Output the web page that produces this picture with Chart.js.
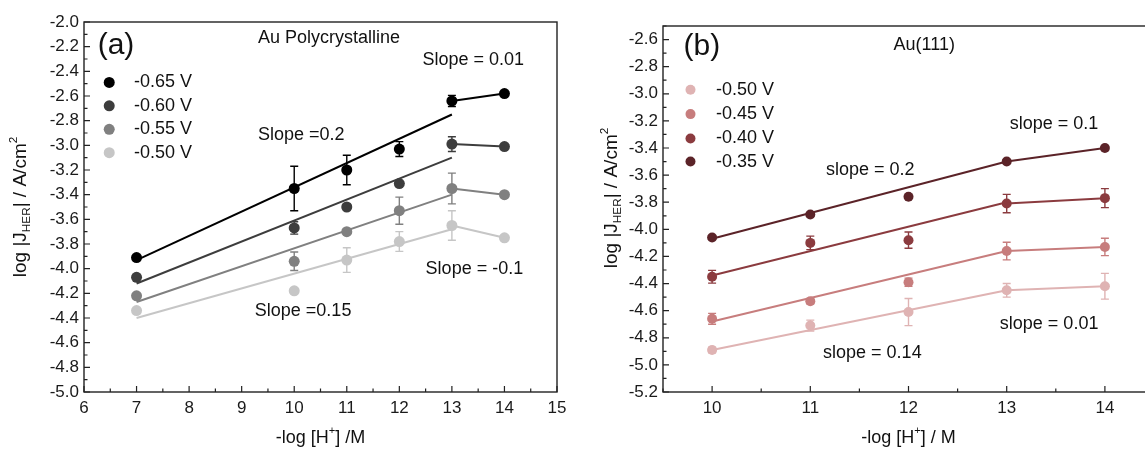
<!DOCTYPE html>
<html>
<head>
<meta charset="utf-8">
<script src="https://cdn.jsdelivr.net/npm/chart.js@4.4.1/dist/chart.umd.min.js"></script>
<style>
  body { margin: 0; width: 1145px; height: 450px; overflow: hidden; background: #fff; position: relative; }
  #wrapA { position: absolute; left: 0; top: 0; width: 575px; height: 450px; }
  #wrapB { position: absolute; left: 575px; top: 0; width: 600px; height: 450px; }
</style>
</head>
<body>
<div id="wrapA"><canvas id="chartA"></canvas></div>
<div id="wrapB"><canvas id="chartB"></canvas></div>
<script>
const FONT = '"Liberation Sans", Arial, Helvetica, sans-serif';

/* ======================
   DATA - PANEL (a)  Au Polycrystalline
====================== */
const phA = [7, 10, 11, 12, 13, 14];
const labelsA = ["-0.65 V", "-0.60 V", "-0.55 V", "-0.50 V"];
const a065 = [-3.91, -3.35, -3.20, -3.03, -2.64, -2.58];
const a060 = [-4.07, -3.67, -3.50, -3.31, -2.99, -3.01];
const a055 = [-4.22, -3.94, -3.70, -3.53, -3.35, -3.40];
const a050 = [-4.34, -4.18, -3.93, -3.78, -3.65, -3.75];
const a065Err = [0, 0.18, 0.12, 0.06, 0.045, 0];
const a060Err = [0, 0.05, 0, 0, 0.06, 0];
const a055Err = [0, 0.075, 0, 0.11, 0.125, 0];
const a050Err = [0, 0, 0.1, 0.08, 0.12, 0];
// linear fits, drawn from pH 7 to 13
const fitXA = [7, 13];
const fitA065 = [-3.93, -2.75];
const fitA060 = [-4.12, -3.10];
const fitA055 = [-4.27, -3.40];
const fitA050 = [-4.40, -3.68];
const xTicksA = [6, 7, 8, 9, 10, 11, 12, 13, 14, 15];
const yTicksA = [-5.0, -4.8, -4.6, -4.4, -4.2, -4.0, -3.8, -3.6, -3.4, -3.2, -3.0, -2.8, -2.6, -2.4, -2.2, -2.0];

/* ======================
   DATA - PANEL (b)  Au(111)
====================== */
const phB = [10, 11, 12, 13, 14];
const labelsB = ["-0.50 V", "-0.45 V", "-0.40 V", "-0.35 V"];
const b050 = [-4.89, -4.71, -4.61, -4.45, -4.42];
const b045 = [-4.66, -4.53, -4.39, -4.16, -4.13];
const b040 = [-4.35, -4.10, -4.08, -3.81, -3.77];
const b035 = [-4.06, -3.89, -3.76, -3.50, -3.40];
const b050Err = [0.02, 0.04, 0.10, 0.05, 0.095];
const b045Err = [0.04, 0.02, 0.03, 0.065, 0.064];
const b040Err = [0.047, 0.05, 0.06, 0.068, 0.07];
const b035Err = [0, 0, 0, 0, 0];
// linear fits, drawn from pH 10 to 13
const fitXB = [10, 13];
const fitB050 = [-4.89, -4.45];
const fitB045 = [-4.68, -4.16];
const fitB040 = [-4.34, -3.80];
const fitB035 = [-4.07, -3.50];
const xTicksB = [10, 11, 12, 13, 14];
const yTicksB = [-5.2, -5.0, -4.8, -4.6, -4.4, -4.2, -4.0, -3.8, -3.6, -3.4, -3.2, -3.0, -2.8, -2.6];

const colorsA = ["#000000", "#3d3d3d", "#808080", "#c6c6c6"];
const colorsB = ["#dfb3b3", "#c77d7d", "#8b3b3f", "#5b2328"];

/* ======================
   DATASET BUILDER
====================== */
function seriesSets(xs, ys, errs, fitX, fit, color, radius) {
  const n = xs.length;
  return [
    { data: fitX.map((x, i) => ({ x, y: fit[i] })), showLine: true, borderColor: color,
      borderWidth: 2, pointRadius: 0 },
    { data: [{ x: xs[n - 2], y: ys[n - 2] }, { x: xs[n - 1], y: ys[n - 1] }], showLine: true,
      borderColor: color, borderWidth: 2, pointRadius: 0 },
    { data: xs.map((x, i) => ({ x, y: ys[i] })), errs, errColor: color, pointRadius: radius,
      pointHoverRadius: radius, backgroundColor: color, borderColor: color, borderWidth: 0 }
  ];
}

/* ======================
   DRAW HELPERS
====================== */
function richText(ctx, parts, x, y, size, align) {
  const widths = parts.map(p => {
    ctx.font = (p.sub || p.sup ? size * 0.62 : size) + "px " + FONT;
    return ctx.measureText(p.t).width;
  });
  const total = widths.reduce((a, b) => a + b, 0);
  let cx = align === "center" ? x - total / 2 : x;
  ctx.textAlign = "left";
  ctx.textBaseline = "middle";
  parts.forEach((p, i) => {
    ctx.font = (p.sub || p.sup ? size * 0.62 : size) + "px " + FONT;
    let dy = 0;
    if (p.sub) dy = size * 0.32;
    if (p.sup) dy = -size * 0.38;
    ctx.fillText(p.t, cx, y + dy);
    cx += widths[i];
  });
}

const yTitleParts = [
  { t: "log |J" }, { t: "HER", sub: true }, { t: "| / A/cm" }, { t: "2", sup: true }
];

const decoPlugin = {
  id: "deco",
  beforeDatasetsDraw(chart) {
    const ctx = chart.ctx;
    const ys = chart.scales.y;
    chart.data.datasets.forEach((ds, i) => {
      if (!ds.errs) return;
      const meta = chart.getDatasetMeta(i);
      ctx.save();
      ctx.strokeStyle = ds.errColor;
      ctx.lineWidth = 1.4;
      ds.data.forEach((p, j) => {
        const e = ds.errs[j];
        if (!e) return;
        const px = meta.data[j].x;
        const t = ys.getPixelForValue(p.y + e);
        const b = ys.getPixelForValue(p.y - e);
        ctx.beginPath();
        ctx.moveTo(px, t); ctx.lineTo(px, b);
        ctx.moveTo(px - 4, t); ctx.lineTo(px + 4, t);
        ctx.moveTo(px - 4, b); ctx.lineTo(px + 4, b);
        ctx.stroke();
      });
      ctx.restore();
    });
  },
  afterDraw(chart, args, opts) {
    const ctx = chart.ctx;
    const area = chart.chartArea;
    const xs = chart.scales.x, ys = chart.scales.y;
    ctx.save();
    // frame
    ctx.strokeStyle = "#222";
    ctx.lineWidth = 1.4;
    ctx.strokeRect(area.left, area.top, area.right - area.left, area.bottom - area.top);
    // inward ticks, major and minor
    ctx.lineWidth = 1.2;
    ctx.beginPath();
    for (let v = opts.xMin; v <= opts.xMax + 1e-9; v += opts.xStep / 2) {
      const px = xs.getPixelForValue(v);
      const major = Math.abs(Math.round(v / opts.xStep) * opts.xStep - v) < 1e-6;
      ctx.moveTo(px, area.bottom);
      ctx.lineTo(px, area.bottom - (major ? 6 : 3.5));
    }
    for (let k = 0; ; k++) {
      const v = opts.yMin + k * opts.yStep / 2;
      if (v > opts.yMax + 1e-9) break;
      const py = ys.getPixelForValue(v);
      ctx.moveTo(area.left, py);
      ctx.lineTo(area.left + (k % 2 === 0 ? 6 : 3.5), py);
    }
    ctx.stroke();

    // legend
    opts.legend.labels.forEach((lab, i) => {
      const py = ys.getPixelForValue(opts.legend.ys[i]);
      ctx.fillStyle = opts.legend.colors[i];
      ctx.beginPath();
      ctx.arc(xs.getPixelForValue(opts.legend.markX), py, opts.legend.r, 0, Math.PI * 2);
      ctx.fill();
      ctx.fillStyle = "#111";
      ctx.font = "18px " + FONT;
      ctx.textAlign = "left";
      ctx.textBaseline = "middle";
      ctx.fillText(lab, xs.getPixelForValue(opts.legend.textX), py);
    });

    // annotations
    opts.texts.forEach(t => {
      ctx.fillStyle = "#111";
      ctx.font = t.size + "px " + FONT;
      ctx.textAlign = t.align || "left";
      ctx.textBaseline = "middle";
      ctx.fillText(t.text, xs.getPixelForValue(t.x), ys.getPixelForValue(t.y));
    });

    // axis titles
    ctx.fillStyle = "#111";
    richText(ctx, opts.xTitle, (area.left + area.right) / 2, opts.xTitleY, 18, "center");
    ctx.save();
    ctx.translate(opts.yTitleX, opts.yTitleY);
    ctx.rotate(-Math.PI / 2);
    richText(ctx, yTitleParts, 0, 0, 19, "center");
    ctx.restore();
    ctx.restore();
  }
};

function axisOpts(min, max, ticks, isY, size, pad) {
  return {
    type: "linear", min, max,
    grid: { display: false, drawTicks: false },
    border: { display: false },
    afterBuildTicks: s => { s.ticks = ticks.map(v => ({ value: v })); },
    afterFit: s => { if (isY) s.width = size; else s.height = size; },
    ticks: {
      color: "#1a1a1a", padding: pad, autoSkip: false, maxRotation: 0,
      font: { size: 17, family: FONT },
      callback: v => isY ? Number(v).toFixed(1) : String(v)
    }
  };
}

function baseOptions(padding) {
  return {
    responsive: true,
    maintainAspectRatio: false,
    animation: false,
    layout: { padding },
    plugins: { legend: { display: false }, tooltip: { enabled: false } },
    events: []
  };
}

/* ======================
   PANEL (a)
====================== */
const optsA = baseOptions({ top: 22, right: 18, left: 0, bottom: 0 });
optsA.scales = {
  x: axisOpts(6, 15, xTicksA, false, 58, 6),
  y: axisOpts(-5.0, -2.0, yTicksA, true, 84, 5)
};
optsA.plugins.deco = {
  xMin: 6, xMax: 15, xStep: 1, yMin: -5.0, yMax: -2.0, yStep: 0.2,
  legend: { labels: labelsA, colors: colorsA, ys: [-2.49, -2.68, -2.87, -3.06], markX: 6.48, textX: 6.95, r: 5.5 },
  texts: [
    { text: "(a)", x: 6.26, y: -2.19, size: 30 },
    { text: "Au Polycrystalline", x: 10.66, y: -2.13, size: 18, align: "center" },
    { text: "Slope = 0.01", x: 12.44, y: -2.31, size: 18 },
    { text: "Slope =0.2", x: 9.31, y: -2.92, size: 18 },
    { text: "Slope = -0.1", x: 12.5, y: -4.0, size: 18 },
    { text: "Slope =0.15", x: 9.25, y: -4.34, size: 18 }
  ],
  xTitle: [{ t: "-log [H" }, { t: "+", sup: true }, { t: "] /M" }],
  xTitleY: 438,
  yTitleX: 21, yTitleY: 207
};

new Chart(document.getElementById("chartA"), {
  type: "scatter",
  data: {
    datasets: [
      ...seriesSets(phA, a065, a065Err, fitXA, fitA065, colorsA[0], 5.5),
      ...seriesSets(phA, a060, a060Err, fitXA, fitA060, colorsA[1], 5.5),
      ...seriesSets(phA, a055, a055Err, fitXA, fitA055, colorsA[2], 5.5),
      ...seriesSets(phA, a050, a050Err, fitXA, fitA050, colorsA[3], 5.5)
    ]
  },
  options: optsA,
  plugins: [decoPlugin]
});

/* ======================
   PANEL (b)
====================== */
const optsB = baseOptions({ top: 26, right: 21, left: 0, bottom: 0 });
optsB.scales = {
  x: axisOpts(9.5, 14.5, xTicksB, false, 58, 6),
  y: axisOpts(-5.2, -2.5, yTicksB, true, 88, 5)
};
optsB.plugins.deco = {
  xMin: 9.5, xMax: 14.5, xStep: 1, yMin: -5.2, yMax: -2.5, yStep: 0.2,
  legend: { labels: labelsB, colors: colorsB, ys: [-2.97, -3.15, -3.33, -3.50], markX: 9.78, textX: 10.04, r: 5 },
  texts: [
    { text: "(b)", x: 9.71, y: -2.655, size: 30 },
    { text: "Au(111)", x: 12.16, y: -2.64, size: 18, align: "center" },
    { text: "slope = 0.1", x: 13.03, y: -3.22, size: 18 },
    { text: "slope = 0.2", x: 11.16, y: -3.56, size: 18 },
    { text: "slope = 0.01", x: 12.93, y: -4.70, size: 18 },
    { text: "slope = 0.14", x: 11.13, y: -4.915, size: 18 }
  ],
  xTitle: [{ t: "-log [H" }, { t: "+", sup: true }, { t: "] / M" }],
  xTitleY: 438,
  yTitleX: 37, yTitleY: 198
};

new Chart(document.getElementById("chartB"), {
  type: "scatter",
  data: {
    datasets: [
      ...seriesSets(phB, b035, b035Err, fitXB, fitB035, colorsB[3], 5),
      ...seriesSets(phB, b040, b040Err, fitXB, fitB040, colorsB[2], 5),
      ...seriesSets(phB, b045, b045Err, fitXB, fitB045, colorsB[1], 5),
      ...seriesSets(phB, b050, b050Err, fitXB, fitB050, colorsB[0], 5)
    ]
  },
  options: optsB,
  plugins: [decoPlugin]
});
</script>
</body>
</html>
